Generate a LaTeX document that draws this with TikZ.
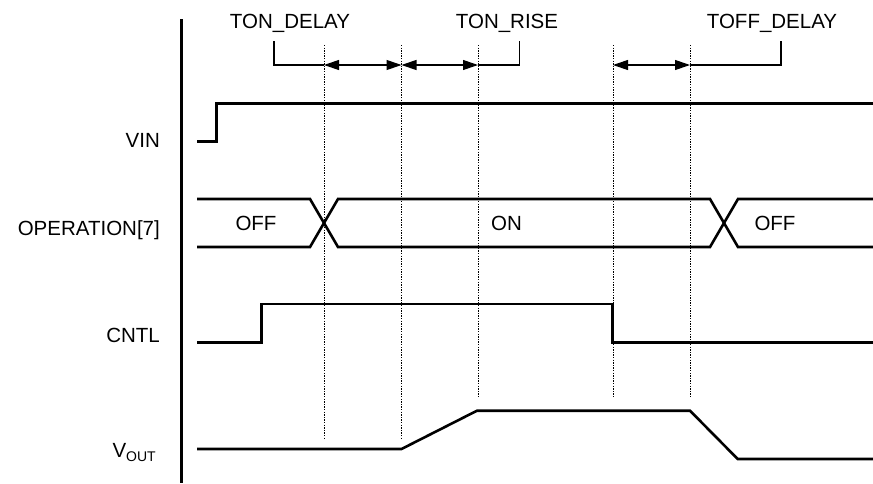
\documentclass[tikz,border=0pt]{standalone}
\usepackage{fontspec}
\setmainfont{Liberation Sans}
\usetikzlibrary{arrows.meta}
\begin{document}
\begin{tikzpicture}[x=1pt,y=-1pt,
  sig/.style={line width=2.6pt,line join=miter},
  axis/.style={line width=2.6pt},
  guide/.style={line width=0.9pt,dash pattern=on 1.3pt off 1.3pt},
  brk/.style={line width=1.1pt},
  dim/.style={line width=1.1pt,{Triangle[length=15pt 0,width=10pt 0]}-{Triangle[length=15pt 0,width=10pt 0]}},
  lbl/.style={inner sep=0pt,font=\fontsize{20.5}{24}\selectfont},
  ]
\useasboundingbox (0,0) rectangle (873,483);
% axis
\coordinate (axT) at (181.5,19);
\coordinate (axB) at (181.5,483);
\draw[axis] (axT) -- (axB);
% left labels
\node[lbl,anchor=base east] (lvin) at (160,147) {VIN};
\node[lbl,anchor=base east] (lop) at (160,235) {OPERATION[7]};
\node[lbl,anchor=base east] (lcntl) at (160,342) {CNTL};
\node[lbl,anchor=base east] (lvout) at (156,457) {V\raisebox{-4pt}{\fontsize{14}{14}\selectfont OUT}};
% top labels
\node[lbl,anchor=base] (tond) at (290,28) {TON\_DELAY};
\node[lbl,anchor=base] (tonr) at (507,28) {TON\_RISE};
\node[lbl,anchor=base] (toffd) at (772,28) {TOFF\_DELAY};
% guide lines
\foreach \n/\x/\yb in {a/324/440,b/401.5/440,c/478/398,d/613/398,e/690/398}{
  \coordinate (g\n t) at (\x,45);
  \coordinate (g\n b) at (\x,\yb);
  \coordinate (g\n m) at (\x,65);
  \draw[guide] (g\n t) -- (g\n b);
}
% brackets
\coordinate (b1t) at (274,41); \coordinate (b1b) at (274,65);
\coordinate (b2t) at (519.5,41); \coordinate (b2b) at (519.5,65);
\coordinate (b3t) at (781,41); \coordinate (b3b) at (781,65);
\draw[brk] (b1t) -- (b1b) -- (gam);
\draw[dim] (gam) -- (gbm);
\draw[dim] (gbm) -- (gcm);
\draw[brk] (gcm) -- (b2b) -- (b2t);
\draw[dim] (gdm) -- (gem);
\draw[brk] (gem) -- (b3b) -- (b3t);
% VIN
\draw[sig] (197,141.7) -- (216.7,141.7) -- (216.7,103.3) -- (873,103.3);
% OPERATION
\draw[sig] (197,199) -- (310,199) -- (338,247) -- (710,247) -- (738,199) -- (873,199);
\draw[sig] (197,247) -- (310,247) -- (338,199) -- (710,199) -- (738,247) -- (873,247);
\node[lbl,anchor=base] (off1) at (256,230.5) {OFF};
\node[lbl,anchor=base] (on) at (506.5,230.5) {ON};
\node[lbl,anchor=base] (off2) at (775,230.5) {OFF};
% CNTL
\draw[sig] (197,342.5) -- (261.7,342.5) -- (261.7,304) -- (612.7,304) -- (612.7,342.5) -- (873,342.5);
% VOUT
\draw[sig] (197,449) -- (401.5,449) -- (477,410.7) -- (690,410.7) -- (737.7,459) -- (873,459);
\end{tikzpicture}
\end{document}
